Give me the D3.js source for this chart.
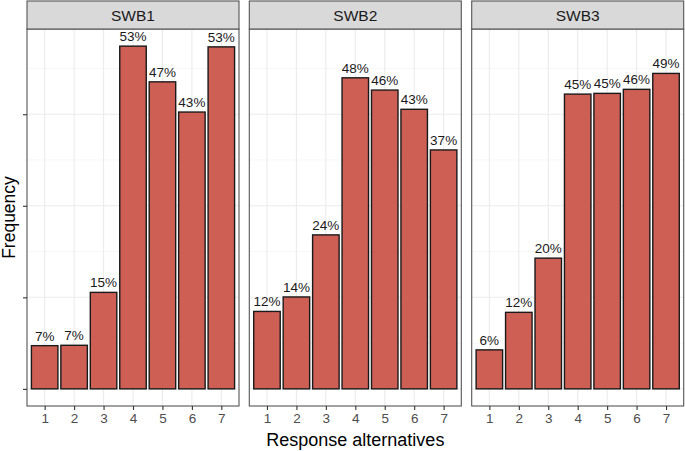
<!DOCTYPE html>
<html><head><meta charset="utf-8">
<script src="https://cdn.jsdelivr.net/npm/d3@7"></script>
<style>body{margin:0;background:#fff}svg{display:block}</style>
</head><body>
<svg id="c" width="685" height="451"></svg>
<script>
const categories = ["1","2","3","4","5","6","7"];
const facets = ["SWB1","SWB2","SWB3"];
const swb1Freq = [23.6, 23.8, 52.7, 187.2, 167.7, 151.2, 186.8];
const swb2Freq = [42.3, 50.2, 84.1, 169.9, 163.2, 152.7, 130.5];
const swb3Freq = [21.3, 41.8, 71.4, 161.0, 161.4, 163.6, 172.3];
const swb1Pct = ["7%","7%","15%","53%","47%","43%","53%"];
const swb2Pct = ["12%","14%","24%","48%","46%","43%","37%"];
const swb3Pct = ["6%","12%","20%","45%","45%","46%","49%"];
const yTicks = [0, 50, 100, 150];
const yMinor = [25, 75, 125, 175];

const freqs = [swb1Freq, swb2Freq, swb3Freq];
const pcts = [swb1Pct, swb2Pct, swb3Pct];

const svg = d3.select("#c");
const font = "'Liberation Sans', Arial, sans-serif";
const panelLefts = [27, 249.3, 471.7];
const panelW = 212;
const stripTop = 1, panelTop = 29, panelBottom = 406;

const maxV = d3.max(freqs.flat());
const ex = maxV * 0.05;
const y = d3.scaleLinear().domain([-ex, maxV + ex]).range([panelBottom, panelTop]);

facets.forEach((f, fi) => {
  const L = panelLefts[fi];
  const x = d3.scaleLinear().domain([0.4, 7.6]).range([L, L + panelW]);
  const g = svg.append("g");
  g.append("rect").attr("x", L).attr("y", panelTop).attr("width", panelW).attr("height", panelBottom - panelTop).attr("fill", "#fff");
  g.selectAll(".gm").data(yMinor).join("line")
    .attr("x1", L).attr("x2", L + panelW).attr("y1", d => y(d)).attr("y2", d => y(d))
    .attr("stroke", "#f0f0f0").attr("stroke-width", 0.6);
  g.selectAll(".gM").data(yTicks).join("line")
    .attr("x1", L).attr("x2", L + panelW).attr("y1", d => y(d)).attr("y2", d => y(d))
    .attr("stroke", "#ebebeb").attr("stroke-width", 1.1);
  g.selectAll(".gx").data(categories).join("line")
    .attr("x1", (d, i) => x(i + 1)).attr("x2", (d, i) => x(i + 1)).attr("y1", panelTop).attr("y2", panelBottom)
    .attr("stroke", "#ebebeb").attr("stroke-width", 1.1);
  g.selectAll(".bar").data(freqs[fi]).join("rect")
    .attr("x", (d, i) => x(i + 1 - 0.45)).attr("width", (d, i) => x(i + 1 + 0.45) - x(i + 1 - 0.45))
    .attr("y", d => y(d)).attr("height", d => y(0) - y(d))
    .attr("fill", "#CD5F55").attr("stroke", "#1a1a1a").attr("stroke-width", 1.4);
  g.selectAll(".lab").data(freqs[fi]).join("text")
    .attr("x", (d, i) => x(i + 1)).attr("y", d => y(d) - 5)
    .attr("text-anchor", "middle").attr("font-family", font).attr("font-size", 13.5).attr("fill", "#1a1a1a")
    .text((d, i) => pcts[fi][i]);
  g.append("rect").attr("x", L).attr("y", panelTop).attr("width", panelW).attr("height", panelBottom - panelTop)
    .attr("fill", "none").attr("stroke", "#555").attr("stroke-width", 1.1);
  g.append("rect").attr("x", L).attr("y", stripTop).attr("width", panelW).attr("height", panelTop - stripTop)
    .attr("fill", "#d9d9d9").attr("stroke", "#555").attr("stroke-width", 1.1);
  g.append("text").attr("x", L + panelW / 2).attr("y", (stripTop + panelTop) / 2 + 5.5)
    .attr("text-anchor", "middle").attr("font-family", font).attr("font-size", 15.5).attr("fill", "#1a1a1a").text(f);
  const ax = d3.axisBottom(d3.scaleLinear().domain(x.domain()).range(x.range()))
    .tickValues([1,2,3,4,5,6,7]).tickFormat((d) => categories[d - 1]).tickSize(4).tickPadding(3);
  const axg = g.append("g").attr("transform", `translate(0,${panelBottom})`).call(ax);
  axg.select(".domain").remove();
  axg.selectAll(".tick line").attr("stroke", "#333").attr("stroke-width", 1.1);
  axg.selectAll(".tick text").attr("font-family", font).attr("font-size", 13.5).attr("fill", "#4d4d4d");
});

const ay = d3.axisLeft(y).tickValues(yTicks).tickFormat("").tickSize(4);
const ayg = svg.append("g").attr("transform", `translate(${panelLefts[0]},0)`).call(ay);
ayg.select(".domain").remove();
ayg.selectAll(".tick line").attr("stroke", "#333").attr("stroke-width", 1.1);

svg.append("text").attr("x", panelLefts[0] + (panelLefts[2] + panelW - panelLefts[0]) / 2).attr("y", 446)
  .attr("text-anchor", "middle").attr("font-family", font).attr("font-size", 18).attr("fill", "#000").text("Response alternatives");
svg.append("text").attr("transform", `translate(15,${(panelTop + panelBottom) / 2}) rotate(-90)`)
  .attr("text-anchor", "middle").attr("font-family", font).attr("font-size", 17.5).attr("fill", "#000").text("Frequency");
</script>
</body></html>
